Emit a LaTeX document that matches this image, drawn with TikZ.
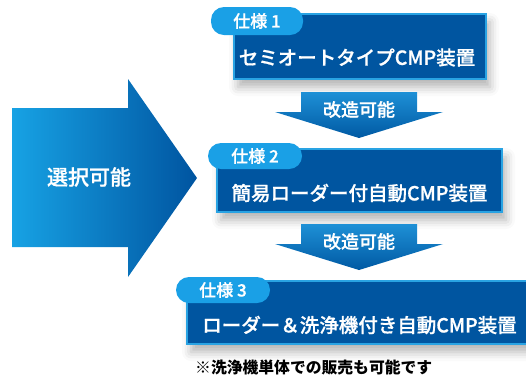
\documentclass[tikz,border=0pt]{standalone}
\usepackage{fontspec}
\setmainfont{Noto Sans CJK JP}
\newfontfamily\jpmedium{Noto Sans CJK JP Medium}[FakeBold=0.7]
\usetikzlibrary{calc,positioning,shadows.blur}
\definecolor{specblue}{RGB}{0,85,160}
\definecolor{specedge}{RGB}{41,163,227}
\definecolor{tabblue}{RGB}{26,160,230}
\definecolor{selleft}{RGB}{23,162,228}
\definecolor{selright}{RGB}{0,84,160}
\definecolor{modtop}{RGB}{30,144,214}
\definecolor{modbottom}{RGB}{0,89,163}
\tikzset{
    select diagram/.style = {x=1pt, y=-1pt},
    specbox/.style        = {draw=specedge, line width=2pt, fill=specblue,
                             inner sep=0pt,
                             blur shadow={shadow xshift=4pt, shadow yshift=-8pt,
                                          shadow blur radius=9pt,
                                          shadow opacity=30}},
    spectab/.style        = {fill=tabblue, rounded corners=13pt, inner sep=0pt,
                             text=white,
                             font=\jpmedium\fontsize{17}{17}\selectfont},
    spectext/.style       = {text=white, inner sep=0pt,
                             font=\jpmedium\fontsize{19.5}{19.5}\selectfont},
    modtext/.style        = {text=white, inner sep=0pt,
                             font=\jpmedium\fontsize{18}{18}\selectfont},
    seltext/.style        = {text=white, inner sep=0pt,
                             font=\jpmedium\fontsize{21}{21}\selectfont},
    note/.style           = {inner sep=0pt, anchor=west,
                             font=\bfseries\fontsize{15.8}{15.8}\selectfont}
}
\newcommand{\modarrow}[2]{%
    \coordinate (#1) at #2;
    \shade[top color=modtop, bottom color=modbottom]
        ($(#1)+(-58,0)$) -- ++(116,0) -- ++(0,20) -- ++(26,0)
        -- ($(#1)+(0,46)$) -- ($(#1)+(-84,20)$) -- ++(26,0) -- cycle;
    \node[modtext] (#1-text) at ($(#1)+(0,17.5)$) {改造可能};
}

\begin{document}
\begin{tikzpicture}[select diagram]
\clip (0,0) rectangle (526,376);

% Selectable: big arrow pointing at the three specifications.
\shade[left color=selleft, right color=selright]
    (12,108) -- (128,108) -- (128,79) -- (197,178) -- (128,277)
    -- (128,247) -- (12,247) -- cycle;
\node[seltext] (select) at (89,177) {選択可能};

% Specification boxes, each with its tab.
\node[specbox, minimum width=252pt, minimum height=65pt] (spec1) at (360,46.5) {};
\node[specbox, minimum width=285pt, minimum height=63pt] (spec2) at (359.5,180.5) {};
\node[specbox, minimum width=350pt, minimum height=63pt] (spec3) at (362,312.5) {};
\node[spectab, minimum width=92pt, minimum height=28pt] (tab1) at (257,21) {仕様 1};
\node[spectab, minimum width=94pt, minimum height=26pt] (tab2) at (255,156) {仕様 2};
\node[spectab, minimum width=94pt, minimum height=26pt] (tab3) at (223,290) {仕様 3};
\node[spectext] (spec1-text) at (357,57.5) {セミオートタイプCMP装置};
\node[spectext] (spec2-text) at (359.5,193) {簡易ローダー付自動CMP装置};
\node[spectext] (spec3-text) at (359.5,325) {ローダー＆洗浄機付き自動CMP装置};

% Upgrade arrows between the boxes.
\modarrow{mod1}{(359,92)}
\modarrow{mod2}{(359,224)}

\node[note] (footnote) at (195,367) {※洗浄機単体での販売も可能です};

\end{tikzpicture}
\end{document}
